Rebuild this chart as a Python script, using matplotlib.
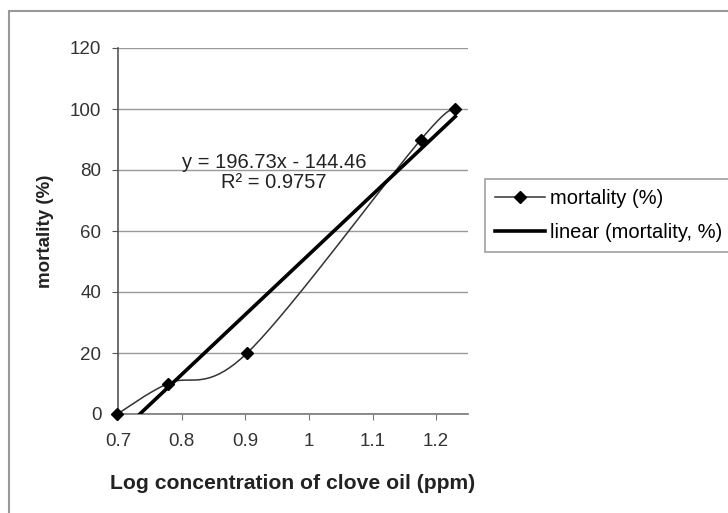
import numpy as np
import matplotlib.pyplot as plt
from matplotlib.patches import Rectangle

plt.rcParams['font.family'] = ['Liberation Sans', 'DejaVu Sans']

# log concentration of clove oil (ppm) and mortality (%)
log_conc = [0.699, 0.778, 0.903, 1.176, 1.230]
mortality = [0, 10, 20, 90, 100]
# linear trendline as printed on the chart
slope = 196.73
intercept = -144.46
r_squared = 0.9757

x_ticks = [0.7, 0.8, 0.9, 1.0, 1.1, 1.2]
x_tick_labels = ['0.7', '0.8', '0.9', '1', '1.1', '1.2']
y_ticks = [0, 20, 40, 60, 80, 100, 120]


def smooth_curve(xs, ys, n=40):
    # Catmull-Rom style bezier segments, like a spreadsheet "smoothed line"
    pts = np.column_stack([xs, ys]).astype(float)
    pad = np.vstack([pts[0], pts, pts[-1]])
    out = []
    for i in range(len(pts) - 1):
        p0, p1, p2, p3 = pad[i], pad[i + 1], pad[i + 2], pad[i + 3]
        c1 = p1 + (p2 - p0) / 6
        c2 = p2 - (p3 - p1) / 6
        t = np.linspace(0, 1, n)[:, None]
        seg = ((1 - t) ** 3) * p1 + 3 * ((1 - t) ** 2) * t * c1 + 3 * (1 - t) * t ** 2 * c2 + t ** 3 * p2
        out.append(seg if i == 0 else seg[1:])
    out = np.vstack(out)
    return out[:, 0], out[:, 1]


fig = plt.figure(figsize=(7.28, 5.13), dpi=100)
ax = fig.add_axes([118 / 728, 1 - 414 / 513, 350 / 728, 366 / 513])

ax.set_xlim(0.7, 1.25)
ax.set_ylim(0, 120)

sx, sy = smooth_curve(log_conc, mortality)
ax.plot(sx, sy, color='#333333', lw=1.1, zorder=3)
ax.plot(log_conc, mortality, ls='none', marker='D', ms=6.5, color='black', zorder=6, clip_on=False)

tx = np.array([log_conc[0], log_conc[-1]])
ax.plot(tx, slope * tx + intercept, color='black', lw=2.6, zorder=5)

# legend proxies
h1, = ax.plot([], [], color='#333333', lw=1.1, marker='D', ms=6, mfc='black', mec='black')
h2, = ax.plot([], [], color='black', lw=2.6)

ax.text(0.945, 82.3, 'y = 196.73x - 144.46', ha='center', va='center', fontsize=14.5, color='#222222')
ax.text(0.945, 76.0, 'R² = 0.9757', ha='center', va='center', fontsize=14.5, color='#222222')

ax.set_xticks(x_ticks)
ax.set_xticklabels(x_tick_labels)
ax.set_yticks(y_ticks)
ax.yaxis.grid(True, color='#999999', lw=1)
ax.set_axisbelow(True)
for s in ['top', 'right']:
    ax.spines[s].set_visible(False)
ax.spines['left'].set_color('#555555')
ax.spines['bottom'].set_color('#777777')
ax.spines['left'].set_linewidth(1.2)
ax.spines['bottom'].set_linewidth(1.2)
ax.tick_params(axis='x', length=4, color='#777777', pad=10, labelsize=13.5, labelcolor='#333333')
ax.tick_params(axis='y', length=4, color='#555555', pad=8, labelsize=13.5, labelcolor='#333333')

ax.set_xlabel('Log concentration of clove oil (ppm)', fontsize=15.2, fontweight='bold', color='#222222')
ax.xaxis.set_label_coords((293 - 118) / 350, -(474 - 414) / 366)
ax.set_ylabel('mortality (%)', fontsize=13.5, fontweight='bold', color='#222222')
ax.yaxis.set_label_coords(-(118 - 54) / 350, 0.5)

leg = fig.legend([h1, h2], ['mortality (%)', 'linear (mortality, %)'],
                 loc='upper left', bbox_to_anchor=(485 / 728, 1 - 179 / 513),
                 fontsize=14.5, frameon=True, fancybox=False, handlelength=2.5,
                 handletextpad=0.25, borderpad=0.5, labelspacing=0.75, borderaxespad=0)
leg.get_frame().set_edgecolor('#888888')
leg.get_frame().set_linewidth(1.2)

# chart area border
fig.patches.append(Rectangle((9 / 728, -0.05), 1.1, 1 - 11 / 513 + 0.05, transform=fig.transFigure,
                             fill=False, edgecolor='#999999', lw=1.5))

fig.savefig('out.png', dpi=100)
